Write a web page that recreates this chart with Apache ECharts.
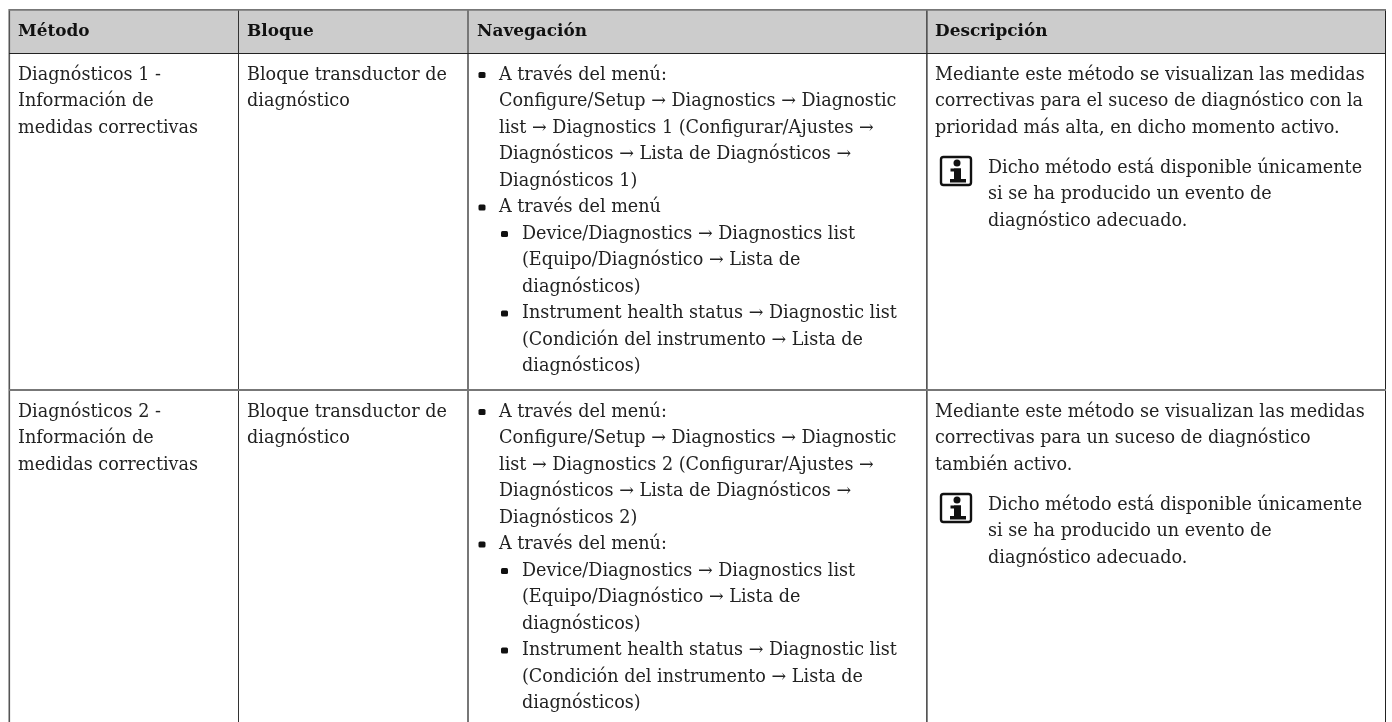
<!DOCTYPE html>
<html><head><meta charset="utf-8">
<style>html,body{margin:0;padding:0;background:#fff}#c{width:1392px;height:722px}</style>
<script src="https://cdn.jsdelivr.net/npm/echarts@6/dist/echarts.min.js"></script>
</head><body><div id="c"></div>
<script>
const headers = ['Método', 'Bloque', 'Navegación', 'Descripción'];
const metodo1 = ['Diagnósticos 1 -', 'Información de', 'medidas correctivas'];
const metodo2 = ['Diagnósticos 2 -', 'Información de', 'medidas correctivas'];
const bloque = ['Bloque transductor de', 'diagnóstico'];
const nav1 = [
 ['b','A través del menú:'],['c','Configure/Setup → Diagnostics → Diagnostic'],['c','list → Diagnostics 1 (Configurar/Ajustes →'],
 ['c','Diagnósticos → Lista de Diagnósticos →'],['c','Diagnósticos 1)'],['b','A través del menú'],
 ['s','Device/Diagnostics → Diagnostics list'],['t','(Equipo/Diagnóstico → Lista de'],['t','diagnósticos)'],
 ['s','Instrument health status → Diagnostic list'],['t','(Condición del instrumento → Lista de'],['t','diagnósticos)']];
const nav2 = [
 ['b','A través del menú:'],['c','Configure/Setup → Diagnostics → Diagnostic'],['c','list → Diagnostics 2 (Configurar/Ajustes →'],
 ['c','Diagnósticos → Lista de Diagnósticos →'],['c','Diagnósticos 2)'],['b','A través del menú:'],
 ['s','Device/Diagnostics → Diagnostics list'],['t','(Equipo/Diagnóstico → Lista de'],['t','diagnósticos)'],
 ['s','Instrument health status → Diagnostic list'],['t','(Condición del instrumento → Lista de'],['t','diagnósticos)']];
const desc1 = ['Mediante este método se visualizan las medidas','correctivas para el suceso de diagnóstico con la','prioridad más alta, en dicho momento activo.'];
const desc2 = ['Mediante este método se visualizan las medidas','correctivas para un suceso de diagnóstico','también activo.'];
const nota = ['Dicho método está disponible únicamente','si se ha producido un evento de','diagnóstico adecuado.'];

const FONT = '"DejaVu Serif"', SIZE = 17.6, BSIZE = 16.9, LH = 26.5, INK = '#222';
const COLX = [9, 238, 468, 927, 1385];
const els = [];
const rect = (x,y,w,h,fill,r) => els.push({type:'rect',shape:{x,y,width:w,height:h,r:r||0},style:{fill},silent:true});
const text = (x,y,t,bold) => els.push({type:'text',x,y,style:{text:t,x:0,y:0,fill:bold?'#111':INK,font:(bold?'bold '+BSIZE:SIZE)+'px '+FONT,textAlign:'left',textVerticalAlign:'middle'},silent:true});
const lines = (x,y,arr) => arr.forEach((t,i)=>text(x,y+i*LH,t));

const W = COLX[4]-COLX[0];
rect(COLX[0],10,W,43,'#cccccc');
rect(8.5,9,1.6,713,'#555');
rect(238,10,1,712,'#333');
rect(467,10,2,712,'#777');
rect(926,10,1.7,712,'#555');
rect(1385,10,1,712,'#222');
rect(COLX[0],9,W+1,1.8,'#777');
rect(COLX[0],53,W+1,1,'#222');
rect(COLX[0],389,W+1,2,'#777');
headers.forEach((h,i)=>text(COLX[i]+ (i===3?8:9),32,h,true));

function nav(y0,arr){
  arr.forEach(([k,t],i)=>{
    const y=y0+i*LH;
    const x={b:499,c:499,s:522,t:522}[k];
    text(x,y,t);
    if(k==='b') rect(478.5,y-3,7,6,'#111',1.5);
    if(k==='s') rect(501,y-3,7,6,'#111',1.5);
  });
}
function icon(y){
  els.push({type:'rect',shape:{x:941,y,width:30,height:28,r:2.5},style:{fill:'none',stroke:'#111',lineWidth:2.4},silent:true});
  els.push({type:'circle',shape:{cx:957,cy:y+6,r:3.5},style:{fill:'#111'},silent:true});
  rect(950.5,y+11.5,10.5,3,'#111');
  rect(954,y+11.5,7,12,'#111');
  rect(950,y+22,16,3.5,'#111');
}
lines(18,75,metodo1); lines(247,75,bloque); nav(75,nav1); lines(935,75,desc1);
icon(157); lines(988,168,nota);
lines(18,412,metodo2); lines(247,412,bloque); nav(412,nav2); lines(935,412,desc2);
icon(494); lines(988,505,nota);

const chart = echarts.init(document.getElementById('c'),null,{renderer:'canvas'});
chart.setOption({animation:false,backgroundColor:'#fff',graphic:{elements:els}});
</script></body></html>
